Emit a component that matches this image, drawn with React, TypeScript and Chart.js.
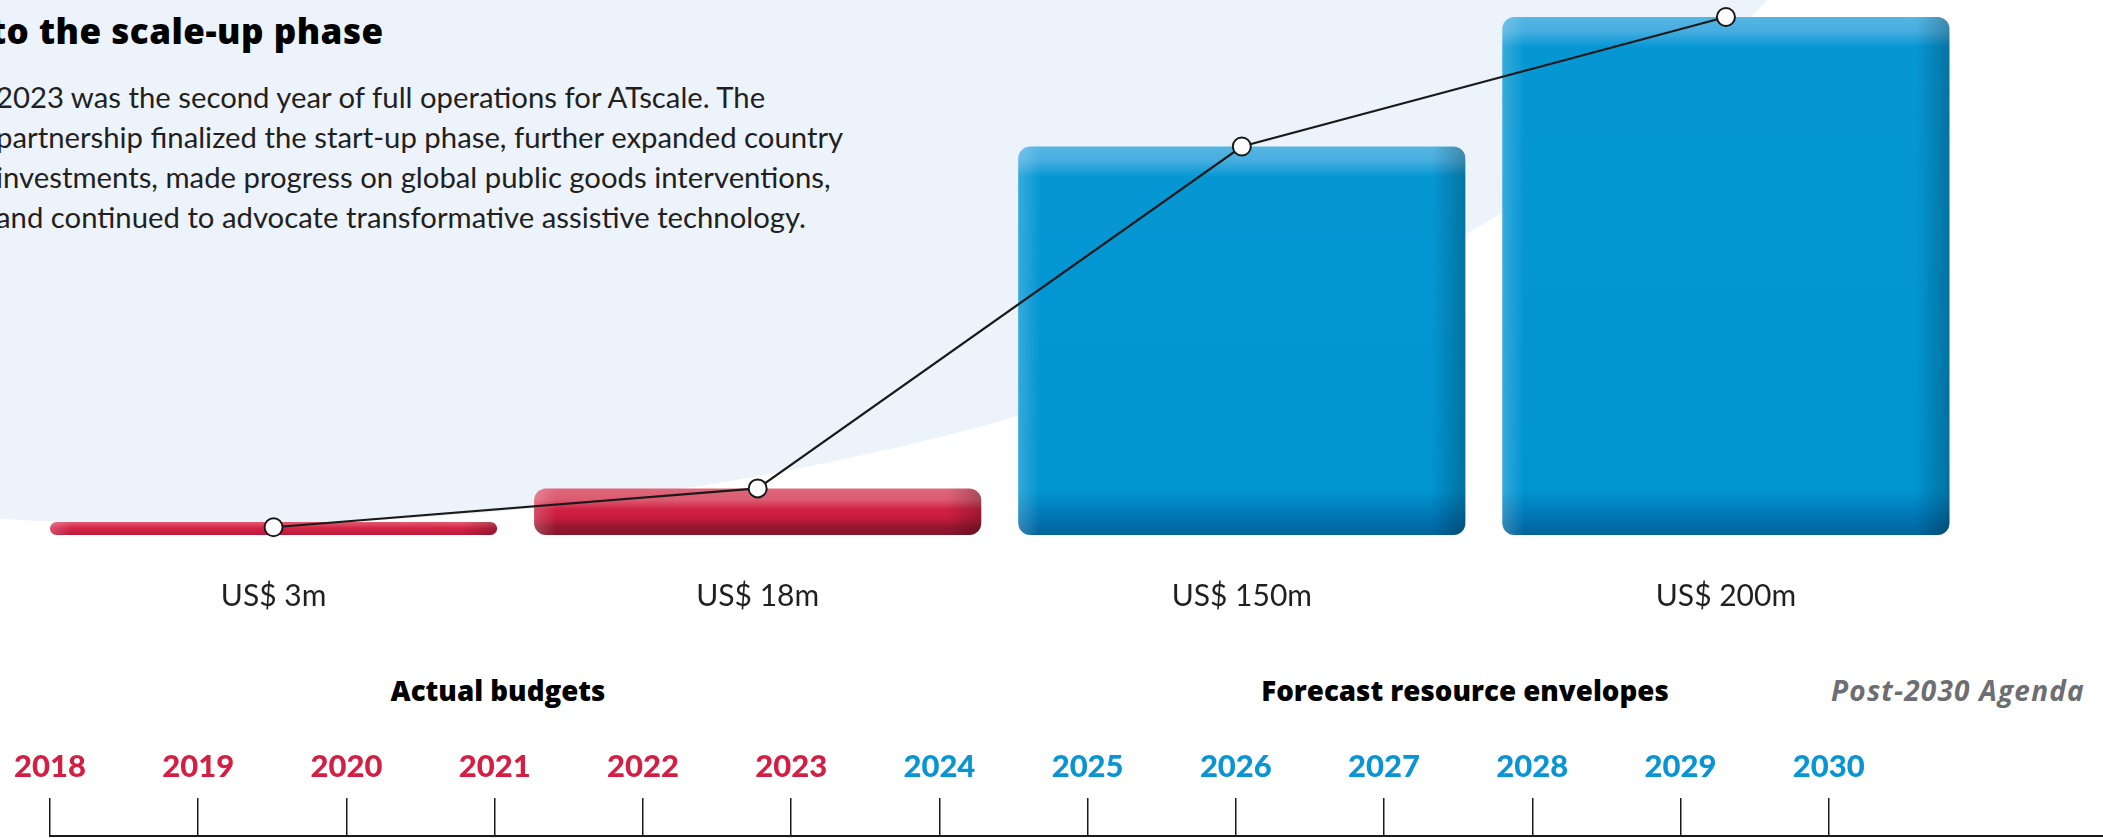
import React, { useEffect, useRef } from 'react';
import { Chart, registerables } from 'chart.js';

Chart.register(...registerables);

// ---- data ----
const budgetLabels = ['US$ 3m', 'US$ 18m', 'US$ 150m', 'US$ 200m'];
const budgetValues = [3, 18, 150, 200];
const budgetPhases = ['actual', 'actual', 'forecast', 'forecast'];
const timelineYears = [2018, 2019, 2020, 2021, 2022, 2023, 2024, 2025, 2026, 2027, 2028, 2029, 2030];
const lastActualYear = 2023;
const phaseTitles = ['Actual budgets', 'Forecast resource envelopes', 'Post-2030 Agenda'];
const titleText = 'to the scale-up phase';
const bodyLines = [
  '2023 was the second year of full operations for ATscale. The',
  'partnership finalized the start-up phase, further expanded country',
  'investments, made progress on global public goods interventions,',
  'and continued to advocate transformative assistive technology.',
];

// ---- styling ----
const RED = '#d21f43';
const BLUE = '#0995d4';
const INK = '#231f20';
const W = 2103;
const MAIN_H = 640;
const BASE_Y = 535;
const TL_TOP = 700;
const TL_H = 138;
const FONT = 'Lato, "Open Sans", sans-serif';
const HEAVY = '"Open Sans", Lato, sans-serif';

function barGradient(ctx: any) {
  const chart = ctx.chart;
  const i = ctx.dataIndex;
  const phase = budgetPhases[i];
  const fallback = phase === 'actual' ? RED : BLUE;
  const yScale = chart.scales && chart.scales.y;
  if (!yScale || !chart.chartArea) return fallback;
  const base = yScale.getPixelForValue(0);
  let top = yScale.getPixelForValue(budgetValues[i]);
  if (!isFinite(top) || !isFinite(base)) return fallback;
  if (base - top < 13) top = base - 13;
  const h = base - top;
  const c = chart.ctx as CanvasRenderingContext2D;
  const g = c.createLinearGradient(0, top, 0, base);
  const f = (px: number) => Math.max(0, Math.min(1, px / h));
  if (phase === 'actual') {
    if (h < 20) {
      g.addColorStop(0, '#e25a71');
      g.addColorStop(0.5, '#d32446');
      g.addColorStop(1, '#b8193a');
    } else {
      g.addColorStop(0, '#df687c');
      g.addColorStop(0.25, '#dc5a70');
      g.addColorStop(0.45, '#d02143');
      g.addColorStop(0.62, '#c81d3e');
      g.addColorStop(0.85, '#93162f');
      g.addColorStop(1, '#86142a');
    }
  } else {
    g.addColorStop(0, '#56b6e3');
    g.addColorStop(f(14), '#46aee0');
    g.addColorStop(f(30), '#0697d3');
    g.addColorStop(f(h - 45), '#0094d1');
    g.addColorStop(f(h - 14), '#0071ae');
    g.addColorStop(1, '#00639b');
  }
  return g;
}

const bevelPlugin = {
  id: 'bevel',
  afterDatasetDraw(chart: any, args: any) {
    if (args.index !== 0) return;
    const c = chart.ctx as CanvasRenderingContext2D;
    args.meta.data.forEach((el: any) => {
      const { x, y, base, width } = el.getProps(['x', 'y', 'base', 'width'], true);
      const left = x - width / 2;
      const top = Math.min(y, base);
      const h = Math.abs(base - y);
      const r = Math.min(12, h / 2);
      c.save();
      c.beginPath();
      (c as any).roundRect(left, top, width, h, r);
      c.clip();
      const g = c.createLinearGradient(left, 0, left + width, 0);
      g.addColorStop(0, 'rgba(255,255,255,0.20)');
      g.addColorStop(22 / width, 'rgba(255,255,255,0)');
      g.addColorStop(1 - 34 / width, 'rgba(0,0,0,0)');
      g.addColorStop(1, 'rgba(0,0,0,0.24)');
      c.fillStyle = g;
      c.fillRect(left, top, width, h);
      c.restore();
    });
  },
};

export default function App() {
  const mainRef = useRef<HTMLCanvasElement>(null);
  const tlRef = useRef<HTMLCanvasElement>(null);

  useEffect(() => {
    const main = new Chart(mainRef.current as HTMLCanvasElement, {
      type: 'bar',
      data: {
        labels: budgetLabels,
        datasets: [
          {
            type: 'bar',
            data: budgetValues,
            order: 2,
            backgroundColor: barGradient as any,
            borderRadius: 12,
            borderSkipped: false,
            barPercentage: 0.9236,
            categoryPercentage: 1,
            minBarLength: 13,
          } as any,
          {
            type: 'line',
            data: budgetValues,
            order: 1,
            borderColor: '#1a1a1a',
            borderWidth: 2.2,
            pointRadius: 9,
            pointBorderWidth: 2,
            pointBackgroundColor: '#ffffff',
            pointBorderColor: '#1a1a1a',
            tension: 0,
            clip: false,
          } as any,
        ],
      },
      options: {
        animation: false,
        responsive: false,
        maintainAspectRatio: false,
        events: [],
        layout: { padding: { left: 31.5, right: W - 1968, top: 17, bottom: 0 } },
        plugins: { legend: { display: false }, tooltip: { enabled: false } },
        scales: {
          x: {
            grid: { display: false, drawTicks: false },
            border: { display: false },
            ticks: { font: { family: FONT, size: 30 }, color: INK, padding: 43, maxRotation: 0 },
            afterFit: (s: any) => { s.height = MAIN_H - BASE_Y; },
          },
          y: { display: false, min: 0, max: 200 },
        },
      } as any,
      plugins: [bevelPlugin],
    });

    const tl = new Chart(tlRef.current as HTMLCanvasElement, {
      type: 'line',
      data: { datasets: [] },
      options: {
        animation: false,
        responsive: false,
        maintainAspectRatio: false,
        events: [],
        layout: { padding: { left: 50, right: 0, top: 0, bottom: 0 } },
        plugins: { legend: { display: false }, tooltip: { enabled: false } },
        scales: {
          x: {
            type: 'linear',
            position: 'top',
            min: 2018,
            max: 2031.85,
            afterBuildTicks: (s: any) => { s.ticks = timelineYears.map((v) => ({ value: v })); },
            afterFit: (s: any) => { s.height = TL_H - 2; },
            grid: { display: true, drawOnChartArea: false, drawTicks: true, tickLength: 38, color: '#1a1a1a', lineWidth: 1.5 },
            border: { display: true, color: '#1a1a1a', width: 2 },
            ticks: {
              autoSkip: false,
              maxRotation: 0,
              padding: 12,
              font: { family: FONT, size: 31, weight: 900 },
              color: (c: any) => (c.tick && c.tick.value <= lastActualYear ? RED : BLUE),
              callback: (v: any) => String(v),
            },
          },
          y: { display: false },
        },
      } as any,
    });

    return () => {
      main.destroy();
      tl.destroy();
    };
  }, []);

  const textBase: React.CSSProperties = { position: 'absolute', whiteSpace: 'nowrap' };

  return (
    <div style={{ position: 'absolute', left: 0, top: 0, width: W, height: 838, overflow: 'hidden', background: '#ffffff' }}>
      <div style={{ position: 'absolute', left: 200 - 1738, top: -400 - 925, width: 1738 * 2, height: 925 * 2, borderRadius: '50%', background: '#ecf3fb' }} />
      <div style={{ ...textBase, fontFamily: HEAVY, left: -10, top: 11, fontSize: 35, lineHeight: '40px', fontWeight: 800, color: '#000', letterSpacing: 0.5 }}>{titleText}</div>
      <div style={{ ...textBase, fontFamily: FONT, left: -4, top: 76.5, fontSize: 29.3, lineHeight: '40px', color: INK }}>
        {bodyLines.map((l, i) => (<div key={i}>{l}</div>))}
      </div>
      <canvas ref={mainRef} width={W} height={MAIN_H} style={{ position: 'absolute', left: 0, top: 0, width: W, height: MAIN_H }} />
      <div style={{ ...textBase, fontFamily: HEAVY, left: 498, top: 675, transform: 'translateX(-50%)', fontSize: 27.7, lineHeight: '30px', fontWeight: 800, color: '#000' }}>{phaseTitles[0]}</div>
      <div style={{ ...textBase, fontFamily: HEAVY, left: 1465, top: 675, transform: 'translateX(-50%)', fontSize: 27.7, lineHeight: '30px', fontWeight: 800, color: '#000' }}>{phaseTitles[1]}</div>
      <div style={{ ...textBase, fontFamily: HEAVY, left: 1958, top: 675, transform: 'translateX(-50%)', fontSize: 28, lineHeight: '30px', fontWeight: 700, fontStyle: 'italic', color: '#6d6e71', letterSpacing: 1.2 }}>{phaseTitles[2]}</div>
      <canvas ref={tlRef} width={W} height={TL_H} style={{ position: 'absolute', left: 0, top: TL_TOP, width: W, height: TL_H }} />
    </div>
  );
}
